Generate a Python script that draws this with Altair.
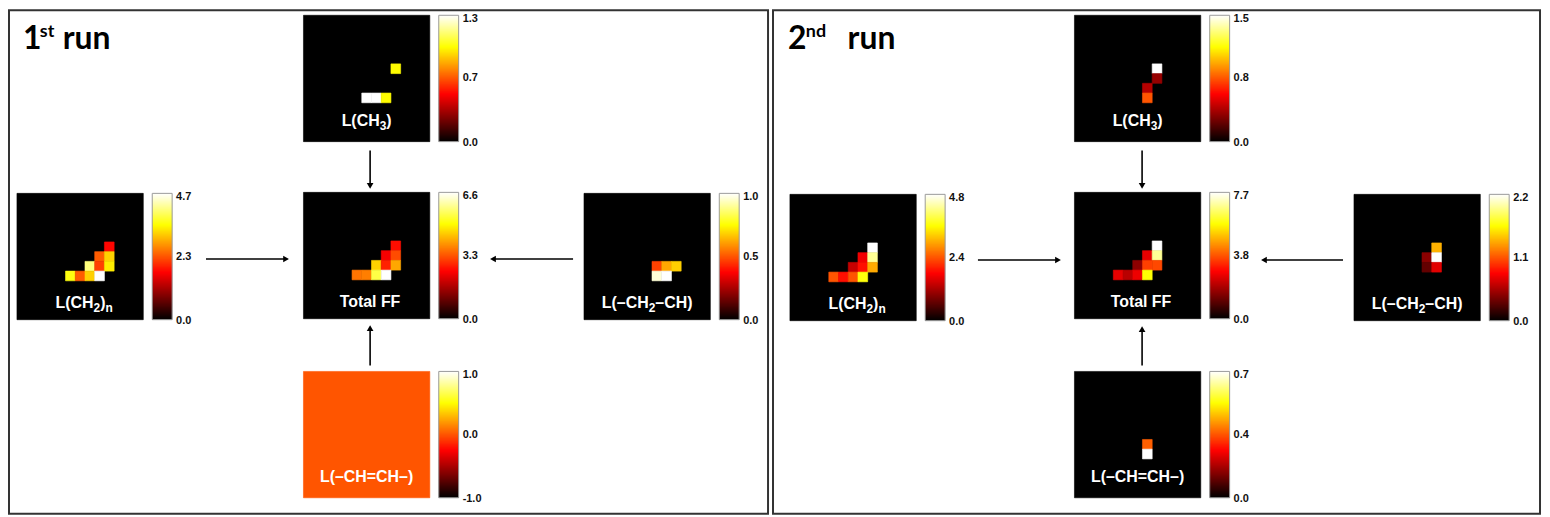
import altair as alt
import pandas as pd

# ---------------- data ----------------
GRID = 13

# Run 1
r1_ch2n_rows = [5, 6, 6, 7, 7, 7, 8, 8, 8, 8]
r1_ch2n_cols = [9, 8, 9, 7, 8, 9, 5, 6, 7, 8]
r1_ch2n_vals = [1.8, 2.4, 3.2, 4.1, 2.2, 3.4, 3.6, 2.4, 3.2, 4.7]
r1_ch2n_range = [0.0, 4.7]
r1_ch2n_ticks = ["4.7", "2.3", "0.0"]

r1_total_rows = [5, 6, 6, 7, 7, 7, 8, 8, 8, 8]
r1_total_cols = [9, 8, 9, 7, 8, 9, 5, 6, 7, 8]
r1_total_vals = [2.6, 2.4, 3.2, 4.5, 2.8, 4.1, 3.6, 3.7, 5.4, 6.6]
r1_total_range = [0.0, 6.6]
r1_total_ticks = ["6.6", "3.3", "0.0"]

r1_ch2ch_rows = [7, 7, 7, 8, 8]
r1_ch2ch_cols = [7, 8, 9, 7, 8]
r1_ch2ch_vals = [0.47, 0.62, 0.68, 0.96, 1.0]
r1_ch2ch_range = [0.0, 1.0]
r1_ch2ch_ticks = ["1.0", "0.5", "0.0"]

r1_ch3_rows = [5, 8, 8, 8]
r1_ch3_cols = [9, 6, 7, 8]
r1_ch3_vals = [0.97, 1.3, 1.3, 0.97]
r1_ch3_range = [0.0, 1.3]
r1_ch3_ticks = ["1.3", "0.7", "0.0"]

r1_chch_rows = []
r1_chch_cols = []
r1_chch_vals = []
r1_chch_range = [-1.0, 1.0]
r1_chch_ticks = ["1.0", "0.0", "-1.0"]

# Run 2
r2_ch2n_rows = [5, 6, 6, 7, 7, 7, 8, 8, 8, 8]
r2_ch2n_cols = [8, 7, 8, 6, 7, 8, 4, 5, 6, 7]
r2_ch2n_vals = [4.8, 1.7, 4.3, 1.4, 1.9, 3.0, 2.4, 1.9, 2.4, 3.65]
r2_ch2n_range = [0.0, 4.8]
r2_ch2n_ticks = ["4.8", "2.4", "0.0"]

r2_total_rows = [5, 6, 6, 7, 7, 7, 8, 8, 8, 8]
r2_total_cols = [8, 7, 8, 6, 7, 8, 4, 5, 6, 7]
r2_total_vals = [7.7, 2.6, 6.9, 1.6, 3.6, 3.7, 2.6, 2.1, 2.7, 5.8]
r2_total_range = [0.0, 7.7]
r2_total_ticks = ["7.7", "3.8", "0.0"]

r2_ch2ch_rows = [5, 6, 6, 7, 7]
r2_ch2ch_cols = [8, 7, 8, 7, 8]
r2_ch2ch_vals = [1.4, 0.45, 2.2, 0.32, 0.73]
r2_ch2ch_range = [0.0, 2.2]
r2_ch2ch_ticks = ["2.2", "1.1", "0.0"]

r2_ch3_rows = [5, 6, 7, 8]
r2_ch3_cols = [8, 8, 7, 7]
r2_ch3_vals = [1.5, 0.33, 0.4, 0.75]
r2_ch3_range = [0.0, 1.5]
r2_ch3_ticks = ["1.5", "0.8", "0.0"]

r2_chch_rows = [7, 8]
r2_chch_cols = [7, 7]
r2_chch_vals = [0.36, 0.7]
r2_chch_range = [0.0, 0.7]
r2_chch_ticks = ["0.7", "0.4", "0.0"]

# label pieces: (text, is_subscript)
labels = {
    "ch2n": [("L(CH", 0), ("2", 1), (")", 0), ("n", 1)],
    "total": [("Total FF", 0)],
    "ch2ch": [("L(–CH", 0), ("2", 1), ("–CH)", 0)],
    "ch3": [("L(CH", 0), ("3", 1), (")", 0)],
    "chch": [("L(–CH=CH–)", 0)],
}
run_titles = {"r1": ("1", "st"), "r2": ("2", "nd")}

# ---------------- layout (page pixel coordinates) ----------------
W, H = 1542, 509
SIZE = 127.0
CB_OFF, CB_W = 136.0, 20.0
LABEL_DY = {"ch2n": 12, "total": 12, "ch2ch": 12, "ch3": 16, "chch": 16}  # baseline above bottom
LABEL_DX = {"ch2n": 4, "total": 4, "ch2ch": 0, "ch3": 0, "chch": 0}
FS_MAIN, FS_SUB, SUB_DROP = 16, 12, 4

# Arial/Liberation Sans Bold advance widths (em)
ADV = {"L": .611, "(": .333, ")": .333, "C": .722, "H": .722, "–": .556, "=": .584,
       "T": .611, "o": .611, "t": .333, "a": .556, "l": .278, " ": .278, "F": .611,
       "n": .611}

def text_w(s, fs):
    return sum(ADV.get(ch, .556) for ch in s) * fs

maps = [
    ("r1", "ch2n", 17, 193), ("r1", "total", 305, 192), ("r1", "ch2ch", 587, 193),
    ("r1", "ch3", 305, 14), ("r1", "chch", 305, 372),
    ("r2", "ch2n", 794, 194), ("r2", "total", 1080, 192), ("r2", "ch2ch", 1361, 194),
    ("r2", "ch3", 1080, 14), ("r2", "chch", 1080, 372),
]

g = globals()
CELL = SIZE / GRID
bg_rows, cell_rows, cb_rows, cbo_rows, tick_rows, lab_rows = [], [], [], [], [], []
for run, key, left, top in maps:
    rows = g[f"{run}_{key}_rows"]
    cols = g[f"{run}_{key}_cols"]
    vals = g[f"{run}_{key}_vals"]
    vmin, vmax = g[f"{run}_{key}_range"]
    ticks = g[f"{run}_{key}_ticks"]
    bg_rows.append(dict(x0=left, x1=left + SIZE, y0=top, y1=top + SIZE,
                        frac=(0.0 - vmin) / (vmax - vmin)))
    for r, c, v in zip(rows, cols, vals):
        cell_rows.append(dict(x0=left + c * CELL, x1=left + (c + 1) * CELL,
                              y0=top + r * CELL, y1=top + (r + 1) * CELL,
                              frac=(v - vmin) / (vmax - vmin)))
    cbl = left + CB_OFF
    N = 120
    for i in range(N):
        cb_rows.append(dict(x0=cbl, x1=cbl + CB_W,
                            y0=max(top, top + SIZE - (i + 1) * SIZE / N - 1.0),
                            y1=top + SIZE - i * SIZE / N,
                            frac=(i + 0.5) / N))
    cbo_rows.append(dict(x0=cbl, x1=cbl + CB_W, y0=top, y1=top + SIZE))
    for t, yy in zip(ticks, [top + 4, top + SIZE / 2, top + SIZE + 1]):
        tick_rows.append(dict(x=cbl + CB_W + 4, y=yy, t=t))
    pieces = labels[key]
    total_w = sum(text_w(s, FS_SUB if sub else FS_MAIN) for s, sub in pieces)
    xcur = left + SIZE / 2 + LABEL_DX[key] - total_w / 2
    base = top + SIZE - LABEL_DY[key]
    for s, sub in pieces:
        fs = FS_SUB if sub else FS_MAIN
        lab_rows.append(dict(x=xcur, y=base + (SUB_DROP if sub else 0), t=s, fs=fs))
        xcur += text_w(s, fs)

frames = pd.DataFrame([
    dict(x0=9, x1=772, y0=9, y1=515),
    dict(x0=777, x1=1548, y0=9, y1=515),
])

arrow_x0 = [207, 576, 372, 372, 983, 1350, 1148, 1148]
arrow_y0 = [259, 259, 150, 366, 260, 260, 150, 366]
arrow_x1 = [291, 492, 372, 372, 1067, 1267, 1148, 1148]
arrow_y1 = [259, 259, 189, 325, 260, 260, 189, 326]
HEAD = 3.5
arr_rows, head_rows = [], []
for xa, ya, xb, yb in zip(arrow_x0, arrow_y0, arrow_x1, arrow_y1):
    dx = (xb > xa) - (xb < xa)
    dy = (yb > ya) - (yb < ya)
    shape = {(1, 0): "triangle-right", (-1, 0): "triangle-left",
             (0, 1): "triangle-down", (0, -1): "triangle-up"}[(dx, dy)]
    arr_rows.append(dict(x0=xa, y0=ya, x1=xb - dx * HEAD, y1=yb - dy * HEAD))
    head_rows.append(dict(x=xb - dx * HEAD, y=yb - dy * HEAD, shape=shape))

titles = pd.DataFrame([
    dict(x=23, y=48, t=run_titles["r1"][0], fs=32), dict(x=40, y=36, t=run_titles["r1"][1], fs=18),
    dict(x=63, y=48, t="run", fs=32),
    dict(x=792, y=48, t=run_titles["r2"][0], fs=32), dict(x=810, y=36, t=run_titles["r2"][1], fs=18),
    dict(x=852, y=48, t="run", fs=32),
])

# ---------------- scales ----------------
xs = alt.Scale(domain=[8, 8 + W], range=[0, W], nice=False, zero=False)
ys = alt.Scale(domain=[8, 8 + H], range=[0, H], nice=False, zero=False)
hot = alt.Scale(domain=[0, 0.375, 0.75, 1.0],
                range=["#000000", "#ff0000", "#ffff00", "#ffffff"],
                interpolate="rgb", clamp=True)

def X(f):
    return alt.X(f, type="quantitative", scale=xs, axis=None)

def Y(f):
    return alt.Y(f, type="quantitative", scale=ys, axis=None)

frame_l = alt.Chart(frames).mark_rect(fill=None, stroke="#333333", strokeWidth=2).encode(
    x=X("x0"), x2="x1", y=Y("y0"), y2="y1")

def heat(df, sw):
    return alt.Chart(pd.DataFrame(df)).mark_rect(strokeWidth=sw).encode(
        x=X("x0"), x2="x1", y=Y("y0"), y2="y1",
        color=alt.Color("frac:Q", scale=hot, legend=None),
        stroke=alt.Stroke("frac:Q", scale=hot, legend=None))

bg_l = heat(bg_rows, 0.6)
cell_l = heat(cell_rows, 0.6)
cb_l = heat(cb_rows, 0)
cbo_l = alt.Chart(pd.DataFrame(cbo_rows)).mark_rect(fill=None, stroke="#9a9a9a", strokeWidth=1).encode(
    x=X("x0"), x2="x1", y=Y("y0"), y2="y1")
tick_l = alt.Chart(pd.DataFrame(tick_rows)).mark_text(
    align="left", baseline="middle", font="Liberation Sans", fontWeight="bold",
    fontSize=11, color="#111111").encode(x=X("x"), y=Y("y"), text="t:N")
lab_l = alt.Chart(pd.DataFrame(lab_rows)).mark_text(
    align="left", baseline="alphabetic", font="Liberation Sans", fontWeight="bold",
    color="white").encode(x=X("x"), y=Y("y"), text="t:N",
                          size=alt.Size("fs:Q", scale=None, legend=None))
arr_l = alt.Chart(pd.DataFrame(arr_rows)).mark_rule(color="black", strokeWidth=1.6).encode(
    x=X("x0"), x2="x1", y=Y("y0"), y2="y1")
head_l = alt.Chart(pd.DataFrame(head_rows)).mark_point(
    filled=True, color="black", opacity=1, size=45).encode(
    x=X("x"), y=Y("y"), shape=alt.Shape("shape:N", scale=None, legend=None))
title_l = alt.Chart(titles).mark_text(
    align="left", baseline="alphabetic", font="Lato", fontWeight="bold", color="black").encode(
    x=X("x"), y=Y("y"), text="t:N", size=alt.Size("fs:Q", scale=None, legend=None))

chart = alt.layer(frame_l, bg_l, cell_l, cb_l, cbo_l, tick_l, lab_l, arr_l, head_l, title_l).properties(
    width=W, height=H, padding=0, autosize=alt.AutoSizeParams(type="none"), background="white"
).configure_view(stroke=None)

chart.save("out.html", embed_options={"renderer": "svg", "actions": False})
